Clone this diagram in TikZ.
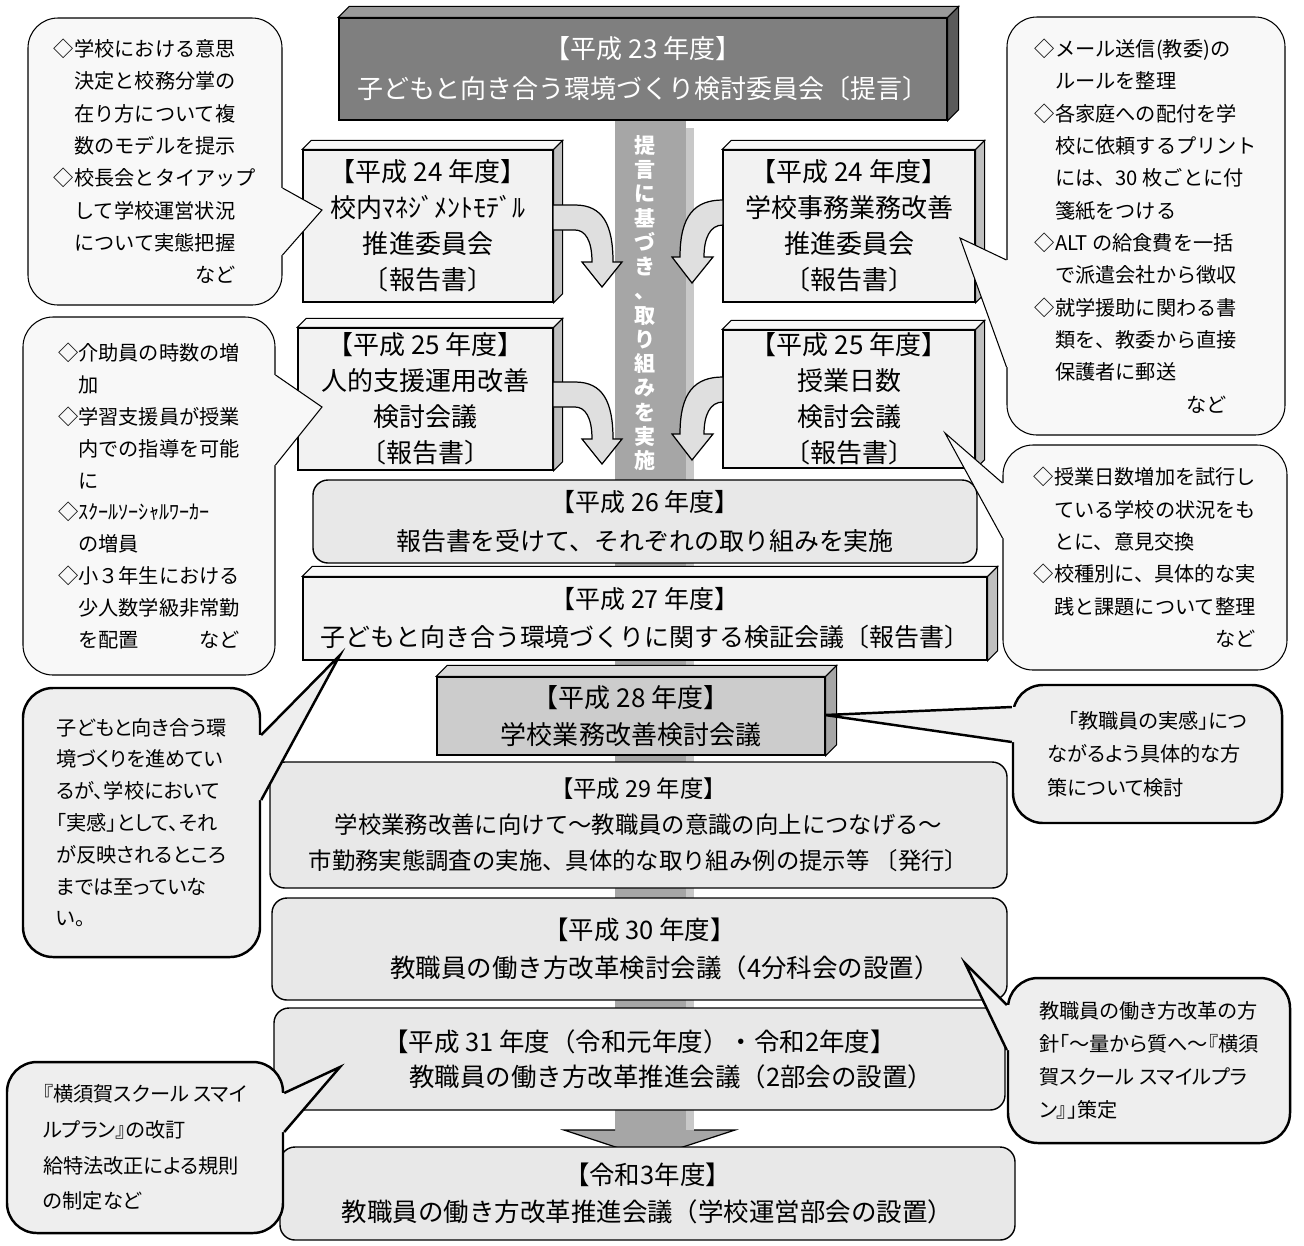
\documentclass[tikz,border=0pt]{standalone}
\usepackage{fontspec}
\setmainfont{Noto Sans CJK JP}
\newfontfamily\pjp{Noto Sans CJK JP}[RawFeature=+palt]
\usepackage{tikz}
\usetikzlibrary{calc}

\definecolor{topgray}{HTML}{7F7F7F}
\definecolor{topgraylt}{HTML}{9A9A9A}
\definecolor{topgraydk}{HTML}{5A5A5A}
\definecolor{boxlight}{HTML}{F2F2F2}
\definecolor{boxtop}{HTML}{F8F8F8}
\definecolor{boxside}{HTML}{BFBFBF}
\definecolor{midgray}{HTML}{CCCCCC}
\definecolor{midtop}{HTML}{DADADA}
\definecolor{midside}{HTML}{A6A6A6}
\definecolor{roundfill}{HTML}{E8E8E8}
\definecolor{callfill}{HTML}{F8F8F8}
\definecolor{thickfill}{HTML}{EEEEEE}
\definecolor{barfill}{HTML}{A6A6A6}
\definecolor{barlight}{HTML}{C8C8C8}
\definecolor{bendfill}{HTML}{DFDFDF}

\tikzstyle{pane}=[draw=black, line width=0.8pt, inner sep=0pt, align=center,% boxes of the time line
font={\fontsize{14.5}{20.4}\selectfont}]
\tikzstyle{flatbox}=[pane, fill=boxlight]
\tikzstyle{roundbox}=[pane, fill=roundfill, rounded corners=0.3cm]
\tikzstyle{talk}=[draw=black, line width=0.6pt, fill=callfill, rounded corners=0.6cm,% callouts
align=left, inner sep=0pt, font={\fontsize{11.5}{18.4}\selectfont}]
\tikzstyle{talkbold}=[talk, line width=1.4pt, fill=thickfill]
\tikzstyle{face}=[draw=black, line width=0.6pt]
\tikzstyle{bendarrow}=[draw=black, line width=0.7pt, fill=bendfill]
\tikzstyle{ptrthin}=[fill=callfill, draw=black, line width=0.6pt]
\tikzstyle{ptrthick}=[fill=thickfill, draw=black, line width=1.4pt]
\tikzset{boxsize/.style 2 args={minimum width=#1*0.02cm, minimum height=#2*0.02cm}}

% top and side faces of a raised box: node, depth, top colour, side colour
\newcommand{\boxfaces}[4]{%
\draw[face, fill=#3] (#1.north west) -- ++(#2,-#2) -- ($(#1.north east)+(#2,-#2)$) -- (#1.north east) -- cycle;
\draw[face, fill=#4] (#1.north east) -- ($(#1.north east)+(#2,-#2)$) -- ($(#1.south east)+(#2,-#2)$) -- (#1.south east) -- cycle;}

% pointer of a callout: style, node, side, y1, y2, tip
\newcommand{\callptr}[6]{%
\fill[#1, draw=none] ($(#2.#3|-0,#4)!4pt!(#2.center|-0,#4)$) -- (#2.#3|-0,#4) -- (#6) -- (#2.#3|-0,#5) -- ($(#2.#3|-0,#5)!4pt!(#2.center|-0,#5)$) -- cycle;
\draw[#1, fill=none] (#2.#3|-0,#4) -- (#6) -- (#2.#3|-0,#5);}

\begin{document}
\begin{tikzpicture}[x=0.02cm, y=-0.02cm]
\useasboundingbox (0,0) rectangle (1304,1245);

% central bar and arrow head
\fill[barfill] (615,120) rectangle (686,1131);
\fill[barlight] (686,128) rectangle (694,1131);
\fill[barfill] (564,1130) -- (735,1130) -- (649,1158) -- cycle;
\draw[line width=0.7pt] (615,1130) -- (564,1130) -- (649,1158) -- (735,1130) -- (694,1130);

% H23
\node[pane, fill=topgray, text=white, boxsize={608}{102}, font={\fontsize{14.8}{22.7}\selectfont}] (h23) at (643,69)
 {【平成 23 年度】\\子どもと向き合う環境づくり検討委員会〔提言〕};
\boxfaces{h23}{11}{topgraylt}{topgraydk}

% H24, H25
\node[flatbox, boxsize={250}{152}, font={\fontsize{14.8}{20.4}\selectfont}] (h24l) at (428,226)
 {【平成 24 年度】\\校内ﾏﾈｼﾞﾒﾝﾄﾓﾃﾞﾙ\\推進委員会\\〔報告書〕};
\boxfaces{h24l}{9}{boxtop}{boxside}
\node[flatbox, boxsize={252}{152}, font={\fontsize{14.8}{20.4}\selectfont}] (h24r) at (849,226)
 {【平成 24 年度】\\学校事務業務改善\\推進委員会\\〔報告書〕};
\boxfaces{h24r}{9}{boxtop}{boxside}
\node[flatbox, boxsize={255}{142}, font={\fontsize{14.8}{20.4}\selectfont}] (h25l) at (425.5,399)
 {【平成 25 年度】\\人的支援運用改善\\検討会議\\〔報告書〕};
\boxfaces{h25l}{9}{boxtop}{boxside}
\node[flatbox, boxsize={252}{138}, font={\fontsize{14.8}{20.4}\selectfont}] (h25r) at (849,399)
 {【平成 25 年度】\\授業日数\\検討会議\\〔報告書〕};
\boxfaces{h25r}{9}{boxtop}{boxside}

% bent arrows into the bar
\foreach \dy in {0,177}{
\draw[bendarrow, shift={(0,\dy)}] (553,205) -- (575,205) .. controls (603,205) and (613,225) .. (613,262) -- (622,262) -- (602,287) -- (582,262) -- (592,262) .. controls (592,240) and (585,230) .. (575,230) -- (553,230) -- cycle;
\draw[bendarrow, shift={(0,\dy)}] (723,200) .. controls (695,200) and (680,215) .. (680,257) -- (672,257) -- (692,283) -- (713,257) -- (704,257) .. controls (704,238) and (710,225) .. (723,225) -- cycle;
}

\node[inner sep=0pt, align=center, text=white, font={\bfseries\fontsize{12}{13.8}\selectfont}] (bartxt) at (645,303)
 {提\\言\\に\\基\\づ\\き\\、\\取\\り\\組\\み\\を\\実\\施};

% H26 - R3
\node[roundbox, boxsize={664}{83}, font={\fontsize{14.2}{22.7}\selectfont}] (h26) at (645,521.5)
 {【平成 26 年度】\\報告書を受けて、それぞれの取り組みを実施};
\node[flatbox, boxsize={684}{83}, font={\fontsize{14.2}{21.5}\selectfont}] (h27) at (645,618.5)
 {【平成 27 年度】\\子どもと向き合う環境づくりに関する検証会議〔報告書〕};
\boxfaces{h27}{10}{boxtop}{boxside}
\node[pane, fill=midgray, boxsize={388}{78}, font={\fontsize{14.8}{21}\selectfont}] (h28) at (631,716)
 {【平成 28 年度】\\学校業務改善検討会議};
\boxfaces{h28}{11}{midtop}{midside}
\node[roundbox, boxsize={737}{126}, font={\fontsize{13.3}{20.4}\selectfont}] (h29) at (638.5,825)
 {【平成 29 年度】\\学校業務改善に向けて～教職員の意識の向上につなげる～\\市勤務実態調査の実施、具体的な取り組み例の提示等 〔発行〕};
\node[roundbox, boxsize={735}{102}, font={\fontsize{14.5}{21.5}\selectfont}] (h30) at (639.5,949)
 {【平成 30 年度】\\\hspace*{2em}教職員の働き方改革検討会議（4分科会の設置）};
\node[roundbox, boxsize={731}{102}, font={\fontsize{14.5}{19.8}\selectfont}] (h31) at (639.5,1059)
 {【平成 31 年度（令和元年度）・令和2年度】\\\hspace*{2.5em}教職員の働き方改革推進会議（2部会の設置）};
\node[roundbox, boxsize={735}{93}, font={\fontsize{14.5}{21}\selectfont}] (r3) at (647.5,1193.5)
 {【令和3年度】\\教職員の働き方改革推進会議（学校運営部会の設置）};

% callouts
\node[talk, boxsize={254}{287}] (c1) at (155,161.5)
 {◇学校における意思\\\hspace*{1em}決定と校務分掌の\\\hspace*{1em}在り方について複\\\hspace*{1em}数のモデルを提示\\
  ◇校長会とタイアップ\\\hspace*{1em}して学校運営状況\\\hspace*{1em}について実態把握\\\hspace*{7em}など};
\node[talk, boxsize={278}{418}] (c2) at (1146,226)
 {◇メール送信(教委)の\\\hspace*{1em}ルールを整理\\◇各家庭への配付を学\\\hspace*{1em}校に依頼するプリント\\
  \hspace*{1em}には、30 枚ごとに付\\\hspace*{1em}箋紙をつける\\◇ALT の給食費を一括\\\hspace*{1em}で派遣会社から徴収\\
  ◇就学援助に関わる書\\\hspace*{1em}類を、教委から直接\\\hspace*{1em}保護者に郵送\\\hspace*{7.5em}など};
\node[talk, boxsize={284}{225}] (c3) at (1145,557.5)
 {◇授業日数増加を試行し\\\hspace*{1em}ている学校の状況をも\\\hspace*{1em}とに、意見交換\\
  ◇校種別に、具体的な実\\\hspace*{1em}践と課題について整理\\\hspace*{9em}など};
\node[talkbold, boxsize={269}{138}, font={\pjp\fontsize{11.5}{19}\selectfont}] (c4) at (1147.5,754)
 {\hspace*{1em}「教職員の実感」につ\\ながるよう具体的な方\\策について検討};
\node[talk, boxsize={252}{358}, font={\fontsize{11.5}{18.1}\selectfont}] (c5) at (149,496)
 {◇介助員の時数の増\\\hspace*{1em}加\\◇学習支援員が授業\\\hspace*{1em}内での指導を可能\\\hspace*{1em}に\\
  ◇ｽｸｰﾙｿｰｼｬﾙﾜｰｶｰ\\\hspace*{1em}の増員\\◇小３年生における\\\hspace*{1em}少人数学級非常勤\\\hspace*{1em}を配置\hspace*{3em}など};
\node[talkbold, boxsize={237}{269}, font={\pjp\fontsize{11.5}{18.1}\selectfont}] (c6) at (141.5,822.5)
 {子どもと向き合う環\\境づくりを進めてい\\るが、学校において\\「実感」として、それ\\が反映されるところ\\までは至っていな\\い。};
\node[talkbold, boxsize={276}{171}, font={\pjp\fontsize{11.5}{20.4}\selectfont}] (c7) at (145,1147.5)
 {『横須賀スクール スマイ\\ルプラン』の改訂\\給特法改正による規則\\の制定など};
\node[talkbold, boxsize={282}{165}, font={\pjp\fontsize{11.5}{18.7}\selectfont}] (c8) at (1149,1060.5)
 {教職員の働き方改革の方\\針「～量から質へ～『横須\\賀スクール スマイルプラ\\ン』」策定};

% pointers
\coordinate (tip1) at (322,210);
\coordinate (tip2) at (960,238);
\coordinate (tip3) at (945,433);
\coordinate (tip4) at (825,715);
\coordinate (tip5) at (322,407);
\coordinate (tip6) at (340,655);
\coordinate (tip7) at (340,1067);
\coordinate (tip8) at (965,963);
\callptr{ptrthin}{c1}{east}{188}{255}{tip1}
\callptr{ptrthin}{c2}{west}{260}{367}{tip2}
\callptr{ptrthin}{c3}{west}{483}{538}{tip3}
\callptr{ptrthick}{c4}{west}{707}{742}{tip4}
\callptr{ptrthin}{c5}{east}{375}{465}{tip5}
\callptr{ptrthick}{c6}{east}{735}{800}{tip6}
\callptr{ptrthick}{c7}{east}{1093}{1132}{tip7}
\callptr{ptrthick}{c8}{west}{1005}{1050}{tip8}
\end{tikzpicture}
\end{document}
